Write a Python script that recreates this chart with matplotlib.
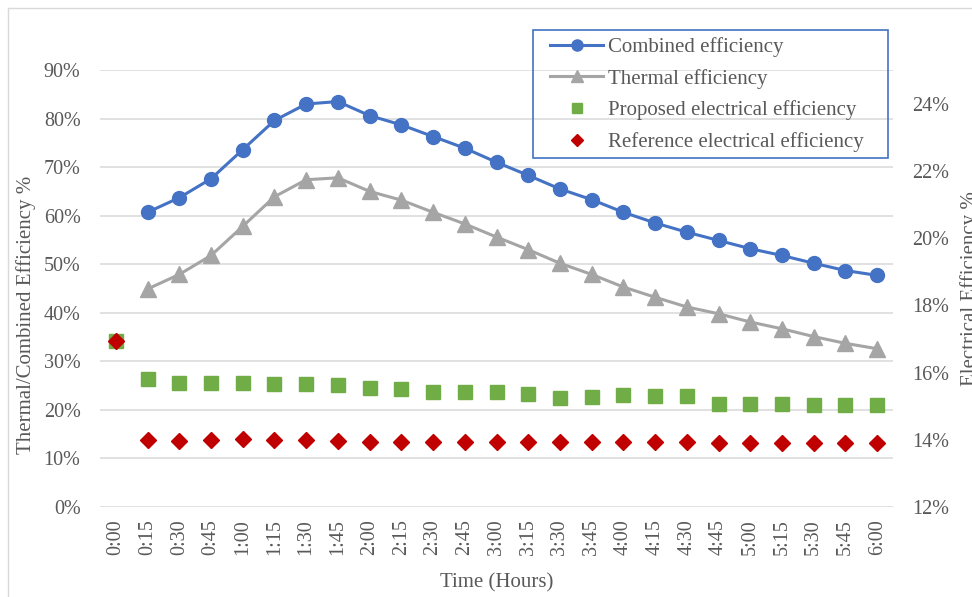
import matplotlib
matplotlib.use("Agg")
import matplotlib.pyplot as plt
import numpy as np
from matplotlib.ticker import PercentFormatter
from matplotlib.lines import Line2D
from matplotlib.patches import Rectangle

plt.rcParams["font.family"] = ["Liberation Serif", "DejaVu Serif"]

times = ["0:00", "0:15", "0:30", "0:45", "1:00", "1:15", "1:30", "1:45", "2:00",
         "2:15", "2:30", "2:45", "3:00", "3:15", "3:30", "3:45", "4:00", "4:15",
         "4:30", "4:45", "5:00", "5:15", "5:30", "5:45", "6:00"]
combined = [np.nan, 60.7, 63.7, 67.6, 73.6, 79.6, 83.0, 83.5, 80.6, 78.7, 76.3, 73.9,
            71.0, 68.3, 65.5, 63.3, 60.7, 58.5, 56.6, 54.9, 53.2, 51.8, 50.2, 48.7, 47.7]
thermal = [np.nan, 44.9, 47.9, 51.8, 57.8, 63.9, 67.4, 67.8, 65.0, 63.2, 60.7, 58.3,
           55.6, 53.0, 50.2, 47.9, 45.3, 43.2, 41.2, 39.8, 38.1, 36.7, 35.1, 33.7, 32.6]
proposed = [16.95, 15.82, 15.69, 15.69, 15.69, 15.66, 15.66, 15.62, 15.53, 15.50, 15.41,
            15.43, 15.42, 15.37, 15.25, 15.27, 15.32, 15.31, 15.31, 15.06, 15.06, 15.05,
            15.02, 15.02, 15.02]
reference = [16.95, 13.98, 13.96, 14.00, 14.03, 14.00, 13.98, 13.96, 13.94, 13.94, 13.94,
             13.93, 13.93, 13.93, 13.92, 13.92, 13.92, 13.92, 13.92, 13.91, 13.91, 13.91,
             13.90, 13.90, 13.90]

grey = "#595959"
x = np.arange(len(times))

fig = plt.figure(figsize=(9.72, 5.97), dpi=100)
ax = fig.add_axes([100/972, 1-507/597, 793/972, 437/597])
ax2 = ax.twinx()

ax.plot(x, np.array(combined)/100, "-o", color="#4472C4", lw=2.2, ms=10, zorder=3)
ax.plot(x, np.array(thermal)/100, "-^", color="#A5A5A5", lw=2.2, ms=11, zorder=3)
ax2.plot(x, np.array(proposed)/100, "s", color="#70AD47", ms=10, ls="none")
ax2.plot(x, np.array(reference)/100, "D", color="#C00000", ms=8.5, ls="none")

ax.set_xlim(-0.5, len(times)-0.5)
ax.set_ylim(0, 0.9)
ax.set_yticks(np.arange(0, 0.91, 0.1))
ax.yaxis.set_major_formatter(PercentFormatter(1.0, decimals=0))
ax2.set_ylim(0.12, 0.25)
ax2.set_yticks(np.arange(0.12, 0.241, 0.02))
ax2.yaxis.set_major_formatter(PercentFormatter(1.0, decimals=0))
ax.set_xticks(x)
ax.set_xticklabels(times, rotation=90)
ax.grid(axis="y", color="#D9D9D9", lw=1.1)
ax.set_axisbelow(True)
for a in (ax, ax2):
    for s in a.spines.values():
        s.set_visible(False)
    a.tick_params(length=0, labelsize=14.5, labelcolor=grey)
ax.tick_params(axis="y", pad=14)
ax2.tick_params(axis="y", pad=14)
ax.tick_params(axis="x", pad=9)

ax.set_xlabel("Time (Hours)", fontsize=15, color=grey, labelpad=13)
fig.text(26/972, 1-315/597, "Thermal/Combined Efficiency %", rotation=90,
         ha="center", va="center", fontsize=15, color=grey)
# right axis title sits partly off the canvas, as in the source image
fig.text(970/972, 1-289/597, "Electrical Efficiency %", rotation=90,
         ha="center", va="center", fontsize=15, color=grey)

handles = [Line2D([], [], color="#4472C4", lw=2.2, marker="o", ms=8),
           Line2D([], [], color="#A5A5A5", lw=2.2, marker="^", ms=8),
           Line2D([], [], color="#70AD47", ls="none", marker="s", ms=7.5),
           Line2D([], [], color="#C00000", ls="none", marker="D", ms=6.5)]
labels = ["Combined efficiency", "Thermal efficiency",
          "Proposed electrical efficiency", "Reference electrical efficiency"]
leg = ax2.legend(handles, labels, loc="upper left", bbox_to_anchor=(550/972, 1-37/597),
                 bbox_transform=fig.transFigure, fontsize=15, frameon=False,
                 handlelength=2.55, handletextpad=0.25, labelspacing=0.57, borderpad=0,
                 borderaxespad=0)
for t in leg.get_texts():
    t.set_color(grey)
fig.add_artist(Rectangle((533/972, 1-158/597), 355/972, 128/597, transform=fig.transFigure,
                         facecolor="none", edgecolor="#4472C4", lw=1.2))

fig.add_artist(Line2D([7.5/972, 7.5/972], [0, 1-7.5/597], transform=fig.transFigure, color="#D9D9D9", lw=1))
fig.add_artist(Line2D([7.5/972, 1], [1-7.5/597, 1-7.5/597], transform=fig.transFigure, color="#D9D9D9", lw=1))

fig.savefig("out.png", dpi=100)
